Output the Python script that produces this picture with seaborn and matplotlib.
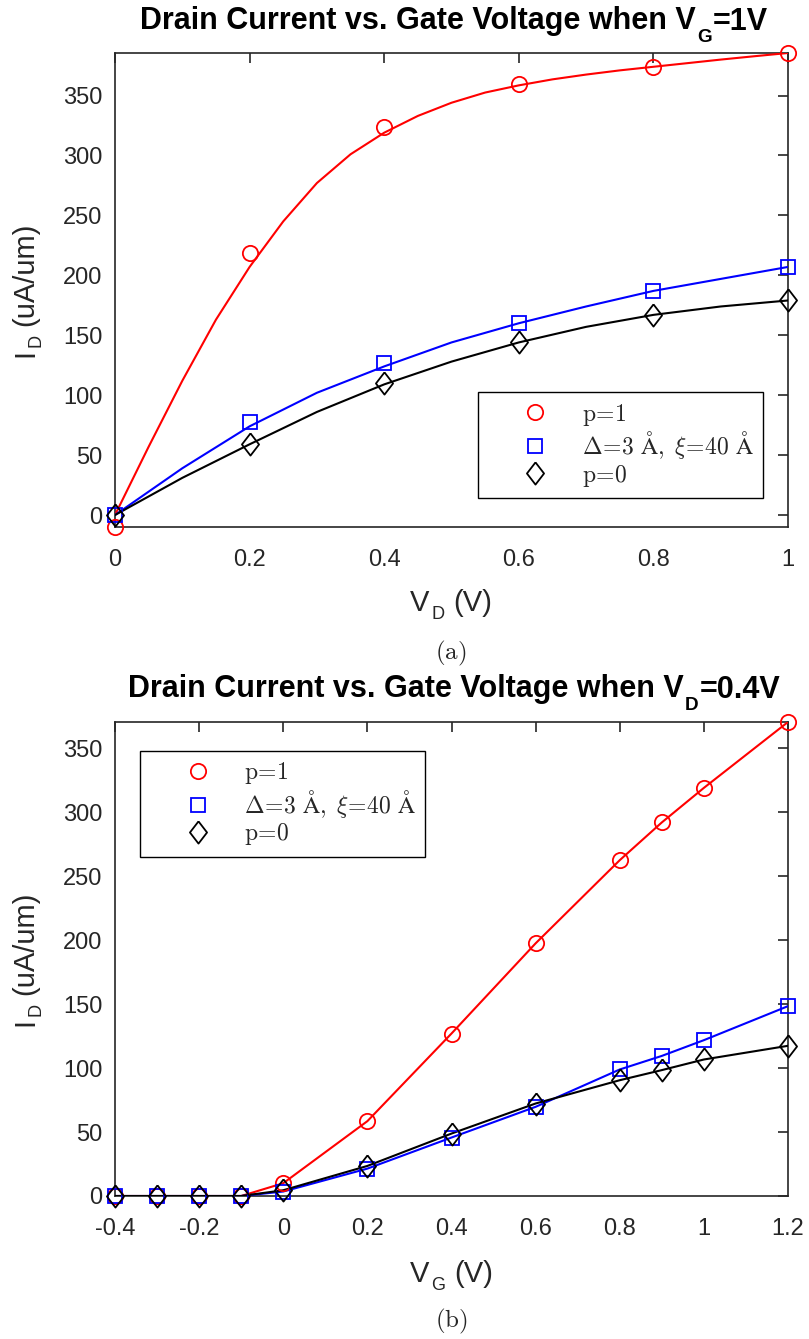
import matplotlib
matplotlib.use("Agg")
import matplotlib.pyplot as plt
from matplotlib.font_manager import FontProperties
import seaborn as sns

# ---------------- data: panel (a) ----------------
vd = [0.0, 0.2, 0.4, 0.6, 0.8, 1.0]
a_p1 = [-10.0, 219.0, 324.0, 360.0, 374.0, 385.5]
a_delta = [0.0, 77.5, 127.0, 160.0, 187.0, 207.0]
a_p0 = [0.0, 59.0, 110.0, 144.0, 167.0, 179.0]

# fitted curves of panel (a)
fit_x_fine = [0.0, 0.05, 0.1, 0.15, 0.2, 0.25, 0.3, 0.35, 0.4, 0.45, 0.5,
              0.55, 0.6, 0.65, 0.7, 0.75, 0.8, 0.85, 0.9, 0.95, 1.0]
fit_p1 = [0.0, 57.0, 112.0, 163.0, 207.0, 245.0, 277.0, 301.0, 319.0, 333.0, 344.0,
          352.5, 358.5, 363.5, 367.5, 371.0, 374.0, 377.0, 380.0, 382.8, 385.5]
fit_x = [0.0, 0.1, 0.2, 0.3, 0.4, 0.5, 0.6, 0.7, 0.8, 0.9, 1.0]
fit_delta = [0.0, 39.0, 74.0, 102.0, 124.0, 144.0, 160.0, 174.0, 187.0, 197.0, 207.0]
fit_p0 = [0.0, 31.0, 59.0, 86.0, 109.0, 128.0, 144.0, 157.0, 167.0, 174.0, 179.0]

# ---------------- data: panel (b) ----------------
vg = [-0.4, -0.3, -0.2, -0.1, 0.0, 0.2, 0.4, 0.6, 0.8, 0.9, 1.0, 1.2]
b_p1 = [0.0, 0.0, 0.0, 0.0, 10.0, 58.5, 127.0, 197.5, 262.5, 292.0, 319.0, 370.5]
b_delta = [0.0, 0.0, 0.0, 0.0, 3.5, 21.4, 45.7, 69.7, 98.9, 109.5, 121.8, 148.4]
b_p0 = [0.0, 0.0, 0.0, 0.0, 4.5, 23.5, 48.8, 72.3, 90.5, 98.4, 106.7, 117.4]

a_xticks = [0.0, 0.2, 0.4, 0.6, 0.8, 1.0]
a_xticklabels = ["0", "0.2", "0.4", "0.6", "0.8", "1"]
b_xticks = [-0.4, -0.2, 0.0, 0.2, 0.4, 0.6, 0.8, 1.0, 1.2]
b_xticklabels = ["-0.4", "-0.2", "0", "0.2", "0.4", "0.6", "0.8", "1", "1.2"]
yticks = [0, 50, 100, 150, 200, 250, 300, 350]
yticklabels = ["0", "50", "100", "150", "200", "250", "300", "350"]

labels = [r"$\mathrm{p}\!=\!1$",
          r"$\Delta\!=\!3\ \mathrm{Å},\ \xi\!=\!40\ \mathrm{Å}$",
          r"$\mathrm{p}\!=\!0$"]
colors = ["#ff0000", "#0000ff", "#000000"]

# text pieces: (text, is_subscript, gap before in px)
title_a = [("Drain Current vs. Gate Voltage when V", False, 0), ("G", True, 1), ("=1V", False, 1)]
title_b = [("Drain Current vs. Gate Voltage when V", False, 0), ("D", True, 1), ("=0.4V", False, 1)]
xlabel_a = [("V", False, 0), ("D", True, 2), ("(V)", False, 9)]
xlabel_b = [("V", False, 0), ("G", True, 2), ("(V)", False, 9)]
ylabel = [("I", False, 0), ("D", True, 2), ("(uA/um)", False, 8)]

sns.set_style("white")
plt.rcParams["font.family"] = ["Liberation Sans", "DejaVu Sans"]
plt.rcParams["mathtext.fontset"] = "cm"
plt.rcParams["axes.unicode_minus"] = False

W, H = 809, 1339
TICK = 17
LAB = 21
TIT = 22
edge = "#262626"

fig = plt.figure(figsize=(W / 100, H / 100), dpi=100)
ax1 = fig.add_axes([115 / W, 1 - 527 / H, 673 / W, 474 / H])
ax2 = fig.add_axes([115 / W, 1 - 1196 / H, 673 / W, 474 / H])

mk = dict(o=dict(marker="o", markersize=11),
          s=dict(marker="s", markersize=9.5),
          D=dict(marker=[(0, 0.5), (0.385, 0), (0, -0.5), (-0.385, 0), (0, 0.5)], markersize=16))


def points(ax, x, y, color, m, label):
    sns.lineplot(x=x, y=y, ax=ax, linestyle="none", color=color,
                 markerfacecolor="none", markeredgecolor=color,
                 markeredgewidth=1.3, label=label, clip_on=False, zorder=4,
                 sort=False, **mk[m])


def curve(ax, x, y, color):
    sns.lineplot(x=x, y=y, ax=ax, color=color, linewidth=1.5, sort=False,
                 zorder=3, legend=False)


curve(ax1, fit_x_fine, fit_p1, colors[0])
curve(ax1, fit_x, fit_delta, colors[1])
curve(ax1, fit_x, fit_p0, colors[2])
points(ax1, vd, a_p1, colors[0], "o", labels[0])
points(ax1, vd, a_delta, colors[1], "s", labels[1])
points(ax1, vd, a_p0, colors[2], "D", labels[2])

curve(ax2, vg, b_p1, colors[0])
curve(ax2, vg, b_delta, colors[1])
curve(ax2, vg, b_p0, colors[2])
points(ax2, vg, b_p1, colors[0], "o", labels[0])
points(ax2, vg, b_delta, colors[1], "s", labels[1])
points(ax2, vg, b_p0, colors[2], "D", labels[2])

ax1.set_xlim(min(vd), max(vd))
ax1.set_ylim(min(a_p1), max(a_p1))
ax2.set_xlim(min(vg), max(vg))
ax2.set_ylim(0, max(b_p1))

ax1.set_xticks(a_xticks, a_xticklabels)
ax2.set_xticks(b_xticks, b_xticklabels)
for ax in (ax1, ax2):
    ax.set_yticks(yticks, yticklabels)
    ax.set_xlabel("")
    ax.set_ylabel("")
    for sp in ax.spines.values():
        sp.set_visible(True)
        sp.set_color(edge)
        sp.set_linewidth(1.2)
    ax.tick_params(axis="both", direction="in", length=7, width=1.2, color=edge,
                   labelcolor=edge, labelsize=TICK, top=True, right=True)
    ax.tick_params(axis="x", pad=16)
    ax.tick_params(axis="y", pad=9)

lp = FontProperties(size=17, math_fontfamily="cm")
legkw = dict(prop=lp, frameon=True, fancybox=False, framealpha=1, edgecolor="#000000",
             borderaxespad=0, handlelength=4.1, handletextpad=-0.1, labelspacing=0.06,
             borderpad=0.4, numpoints=1)
leg1 = ax1.legend(loc="lower right", bbox_to_anchor=((763 - 115) / 673, (527 - 498) / 474), **legkw)
leg2 = ax2.legend(loc="upper left", bbox_to_anchor=((140 - 115) / 673, (1196 - 751) / 474), **legkw)
for lg in (leg1, leg2):
    lg.get_frame().set_linewidth(1.0)

renderer = fig.canvas.get_renderer()


def rich(parts, cx, cy, size, weight="normal", color=edge, rotation=0, drop=0.3, sub=0.62):
    """Text with a lowered subscript. cx, cy: centre along the text / baseline (px, y from top)."""
    arts = []
    total = 0.0
    for txt, is_sub, gap in parts:
        t = fig.text(0, 0, txt, fontsize=size * (sub if is_sub else 1.0), fontweight=weight,
                     color=color, rotation=rotation, rotation_mode="anchor",
                     ha="left", va="baseline")
        bb = t.get_window_extent(renderer)
        adv = bb.height if rotation == 90 else bb.width
        arts.append((t, is_sub, gap, adv))
        total += adv + gap
    pos = -total / 2.0
    dpx = drop * size * 100 / 72.0
    for t, is_sub, gap, adv in arts:
        pos += gap
        shift = dpx if is_sub else 0.0
        if rotation == 90:
            x, y = cx + shift, cy - pos
        else:
            x, y = cx + pos, cy + shift
        t.set_position((x / W, 1 - y / H))
        pos += adv


rich(title_a, 454, 29.5, TIT, weight="bold", color="#000000", drop=0.42)
rich(title_b, 454, 697.5, TIT, weight="bold", color="#000000", drop=0.42)
rich(xlabel_a, 451, 611.5, LAB, drop=0.27)
rich(xlabel_b, 451, 1282, LAB, drop=0.27)
rich(ylabel, 33, 290, LAB, rotation=90, drop=0.27)
rich(ylabel, 33, 959, LAB, rotation=90, drop=0.27)

capfp = FontProperties(size=18, math_fontfamily="cm")
fig.text(451 / W, 1 - 653 / H, r"$\mathrm{(a)}$", ha="center", va="center", fontproperties=capfp)
fig.text(451 / W, 1 - 1321 / H, r"$\mathrm{(b)}$", ha="center", va="center", fontproperties=capfp)

fig.savefig("out.png", dpi=100)
